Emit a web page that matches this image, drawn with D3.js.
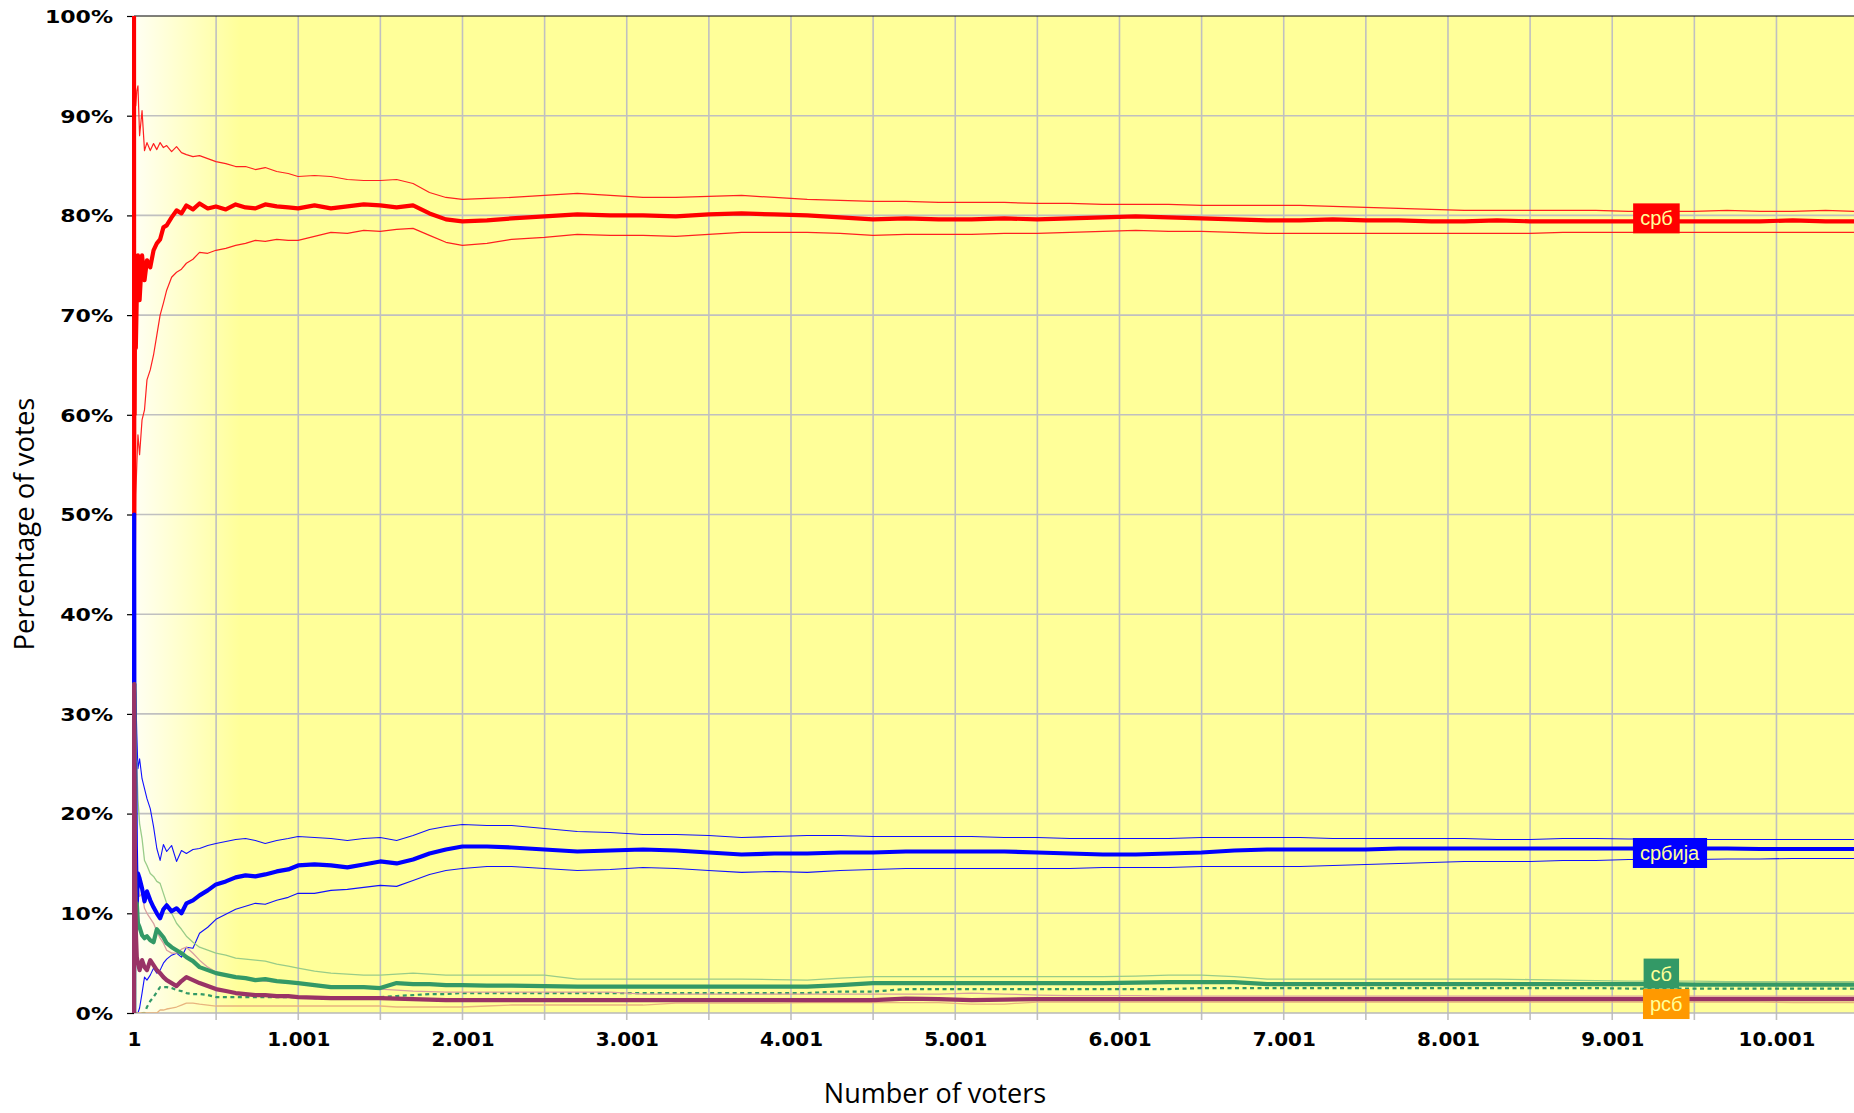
<!DOCTYPE html>
<html>
<head>
<meta charset="utf-8">
<script src="https://cdn.jsdelivr.net/npm/d3@7"></script>
<style>
  html, body { margin: 0; padding: 0; background: #fff; }
  svg { display: block; }
</style>
</head>
<body>
<div id="chart"></div>
<script>
// ========== Data ==========
const voters = [1,2,3,5,8,12,18,25,35,50,
  65,80,100,120,140,160,180,200,230,260,
  290,320,360,400,450,500,560,620,680,740,
  800,870,940,1000,1100,1200,1300,1400,1500,1600,
  1700,1800,1900,2000,2150,2300,2500,2700,2900,3100,
  3300,3500,3700,3900,4100,4300,4500,4700,4900,5100,
  5300,5500,5700,5900,6100,6300,6500,6700,6900,7100,
  7300,7500,7700,7900,8100,8300,8500,8700,8900,9100,
  9300,9500,9700,9900,10100,10300,10500];

// срб
const srbMean = [100,50,66.7,60,75,66.7,72,76,71.5,76,
  73.5,75.5,74.8,76.5,77.2,77.6,78.8,79,79.8,80.5,
  80.2,81,80.6,81.2,80.7,80.9,80.6,81.1,80.8,80.7,
  81.1,80.9,80.8,80.7,81.0,80.7,80.9,81.1,81.0,80.8,
  81.0,80.2,79.6,79.4,79.5,79.7,79.9,80.1,80.0,80.0,
  79.9,80.1,80.2,80.1,80.0,79.8,79.6,79.7,79.6,79.6,
  79.7,79.6,79.7,79.8,79.9,79.8,79.7,79.6,79.5,79.5,
  79.6,79.5,79.5,79.4,79.4,79.5,79.4,79.4,79.4,79.4,
  79.4,79.4,79.4,79.4,79.5,79.4,79.4];
const srbHigh = [76,88,92,90,93.3,91,92.5,93,88,90.5,
  86.5,87.3,86.5,87.2,86.6,87.3,86.8,87.0,86.4,86.9,
  86.3,86.1,85.9,86.0,85.7,85.4,85.2,84.9,84.9,84.6,
  84.8,84.4,84.2,83.9,84.0,83.9,83.6,83.5,83.5,83.6,
  83.2,82.3,81.8,81.6,81.7,81.8,82.0,82.2,82.0,81.8,
  81.8,81.9,82.0,81.8,81.6,81.5,81.4,81.4,81.3,81.3,
  81.3,81.2,81.2,81.1,81.1,81.1,81.0,81.0,81.0,81.0,
  80.9,80.8,80.7,80.6,80.5,80.5,80.5,80.5,80.5,80.4,
  80.4,80.4,80.5,80.4,80.4,80.5,80.4];
const srbLow = [40,44,40,48,42,52,55,58,56,59.5,
  60.5,63.5,64.5,66,68,70,71.2,72.5,73.8,74.3,
  74.6,75.2,75.6,76.3,76.2,76.5,76.7,77.0,77.2,77.5,
  77.4,77.6,77.5,77.5,77.9,78.3,78.2,78.5,78.4,78.6,
  78.7,78.0,77.3,77.0,77.2,77.6,77.8,78.1,78.0,78.0,
  77.9,78.1,78.3,78.3,78.3,78.2,78.0,78.1,78.1,78.1,
  78.2,78.2,78.3,78.4,78.5,78.4,78.4,78.3,78.2,78.2,
  78.2,78.2,78.2,78.2,78.2,78.2,78.2,78.3,78.3,78.3,
  78.3,78.3,78.3,78.3,78.3,78.3,78.3];

// србија
const srbijaMean = [0,50,33,20,25,16.7,11,14,13.5,12.5,
  11.2,12.2,11.3,10.6,10.0,9.5,10.4,10.8,10.2,10.5,
  10.0,11.0,11.3,11.8,12.3,12.9,13.2,13.6,13.8,13.7,
  13.9,14.2,14.4,14.8,14.9,14.8,14.6,14.9,15.2,15.0,
  15.4,16.0,16.4,16.7,16.7,16.6,16.4,16.2,16.3,16.4,
  16.3,16.1,15.9,16.0,16.0,16.1,16.1,16.2,16.2,16.2,
  16.2,16.1,16.0,15.9,15.9,16.0,16.1,16.3,16.4,16.4,
  16.4,16.4,16.5,16.5,16.5,16.5,16.5,16.5,16.5,16.5,
  16.5,16.5,16.5,16.45,16.45,16.45,16.45];
const srbijaHigh = [0,76,60,40,33,32,28,24.5,25.5,23.5,
  22.5,21.5,20.5,18.7,16.5,15.3,16.9,16.2,16.8,15.2,
  16.3,16.0,16.4,16.5,16.8,17.0,17.2,17.4,17.5,17.3,
  17.0,17.3,17.5,17.7,17.6,17.5,17.3,17.5,17.6,17.3,
  17.8,18.4,18.7,18.9,18.8,18.8,18.5,18.2,18.1,17.9,
  17.9,17.8,17.6,17.7,17.8,17.8,17.7,17.7,17.7,17.7,
  17.6,17.6,17.5,17.5,17.5,17.5,17.6,17.6,17.6,17.6,
  17.5,17.5,17.5,17.5,17.5,17.4,17.4,17.5,17.5,17.45,
  17.45,17.4,17.4,17.4,17.4,17.4,17.4];
const srbijaLow = [0,0,0,0,0,0,0,0,0.5,2,
  3.6,3.3,3.8,4.5,4.0,4.3,5.0,5.4,5.8,6.0,
  5.6,6.6,6.5,8.0,8.6,9.4,9.9,10.4,10.7,11.0,
  10.9,11.3,11.6,12.0,12.0,12.3,12.4,12.6,12.8,12.7,
  13.3,13.9,14.3,14.5,14.7,14.7,14.5,14.3,14.4,14.6,
  14.5,14.3,14.1,14.2,14.1,14.3,14.4,14.5,14.5,14.5,
  14.5,14.5,14.5,14.6,14.6,14.6,14.7,14.7,14.7,14.7,
  14.8,14.9,15.0,15.1,15.2,15.2,15.2,15.3,15.3,15.4,
  15.4,15.4,15.45,15.45,15.5,15.5,15.5];

// сб
const sbMean = [0,0,33,20,12.5,8.3,11,9.0,8.6,7.8,
  7.5,7.7,7.3,7.1,8.4,8.0,7.6,7.0,6.6,6.3,
  6.0,5.6,5.2,4.6,4.3,4.0,3.8,3.6,3.5,3.3,
  3.4,3.2,3.1,3.0,2.8,2.6,2.6,2.6,2.5,3.0,
  2.9,2.9,2.8,2.8,2.75,2.75,2.7,2.65,2.65,2.65,
  2.65,2.65,2.65,2.65,2.65,2.8,3.0,3.0,3.0,3.0,
  3.0,3.0,3.0,3.0,3.05,3.1,3.1,3.1,2.9,2.9,
  2.9,2.9,2.9,2.9,2.9,2.9,2.9,2.9,2.9,2.9,
  2.9,2.85,2.85,2.85,2.85,2.85,2.85];
const sbHigh = [0,20,33,30,28,26,25,21.4,19,17.5,
  15.3,14.8,14.0,13.7,13.2,13.0,12.0,11.0,10.0,9.0,
  8.4,7.7,7.1,6.6,6.3,6.0,5.8,5.5,5.4,5.3,
  5.2,4.9,4.7,4.5,4.2,4.0,3.9,3.8,3.8,3.9,
  4.0,3.9,3.8,3.8,3.8,3.8,3.8,3.4,3.4,3.4,
  3.4,3.4,3.4,3.35,3.3,3.5,3.65,3.65,3.65,3.65,
  3.65,3.65,3.65,3.65,3.7,3.8,3.8,3.65,3.4,3.4,
  3.4,3.4,3.4,3.4,3.4,3.4,3.35,3.3,3.25,3.2,
  3.2,3.2,3.15,3.15,3.15,3.15,3.15];
const sbLow = [0,0,0,0,0,0,0,0,0,0,
  0,0.6,1.2,1.6,2.1,2.6,2.6,2.6,2.5,2.3,
  2.2,2.0,1.9,1.9,1.8,1.6,1.6,1.6,1.6,1.6,
  1.6,1.6,1.6,1.6,1.5,1.5,1.5,1.6,1.6,1.7,
  1.8,1.9,1.9,2.0,2.0,2.0,2.0,2.0,2.0,2.0,
  2.0,2.0,2.0,2.0,2.0,2.15,2.15,2.4,2.4,2.4,
  2.4,2.4,2.4,2.4,2.4,2.4,2.5,2.5,2.5,2.5,
  2.5,2.5,2.5,2.5,2.5,2.5,2.5,2.5,2.5,2.45,
  2.45,2.45,2.45,2.45,2.45,2.45,2.45];

// рсб
const rsbMean = [0,33,25,20,12.5,8.3,5.6,5.0,4.3,5.3,
  4.6,4.3,5.3,4.8,4.3,4.0,3.6,3.3,3.0,2.7,
  3.2,3.6,3.3,3.0,2.7,2.4,2.2,2.0,1.9,1.8,
  1.8,1.7,1.7,1.6,1.55,1.5,1.5,1.5,1.5,1.45,
  1.4,1.35,1.3,1.3,1.3,1.3,1.3,1.3,1.3,1.3,
  1.3,1.3,1.3,1.3,1.3,1.3,1.3,1.45,1.4,1.3,
  1.35,1.4,1.4,1.4,1.4,1.4,1.4,1.4,1.4,1.4,
  1.4,1.4,1.4,1.4,1.4,1.4,1.4,1.4,1.4,1.4,
  1.4,1.4,1.4,1.4,1.4,1.4,1.4];
const rsbHigh = [0,37,30,25,20,16,13,12.5,11.7,12,
  10.5,10,9.5,9.0,8.2,7.5,7.0,6.3,6.0,6.0,
  6.4,6.6,6.0,5.3,4.6,4.1,3.8,3.6,3.4,3.3,
  3.2,3.1,3.0,3.0,2.8,2.7,2.6,2.5,2.4,2.3,
  2.2,2.15,2.1,2.1,2.1,2.1,2.1,2.1,2.1,1.9,
  1.9,1.9,1.9,1.9,1.9,1.9,1.9,1.9,1.9,2.0,
  1.9,1.8,1.75,1.75,1.75,1.7,1.7,1.7,1.7,1.7,
  1.7,1.7,1.7,1.7,1.7,1.7,1.7,1.7,1.7,1.7,
  1.7,1.7,1.7,1.7,1.7,1.7,1.7];
const rsbLow = [0,0,0,0,0,0,0,0,0,0,
  0,0,0,0,0,0.3,0.3,0.4,0.5,0.6,
  0.8,1.0,1.0,0.9,0.8,0.7,0.7,0.7,0.7,0.7,
  0.7,0.7,0.7,0.7,0.7,0.7,0.7,0.7,0.7,0.6,
  0.6,0.6,0.6,0.6,0.7,0.8,0.8,0.8,0.8,0.8,
  1.0,1.0,1.0,1.0,1.05,1.05,1.05,1.05,1.05,0.9,
  0.9,1.1,1.1,1.1,1.1,1.1,1.1,1.1,1.1,1.1,
  1.1,1.1,1.1,1.1,1.1,1.1,1.1,1.1,1.1,1.1,
  1.1,1.1,1.1,1.1,1.05,1.05,1.05];

const yTicks = [0, 10, 20, 30, 40, 50, 60, 70, 80, 90, 100];
const xTicks = [1, 1001, 2001, 3001, 4001, 5001, 6001, 7001, 8001, 9001, 10001];
const xMinor = d3.range(1, 10502, 500);

const labelNames = ["срб", "србија", "сб", "рсб"];
const labelValues = [79.4, 16.45, 2.85, 1.4];
const labelVoters = [9270, 9350, 9300, 9330];

// ========== Layout ==========
const W = 1854, H = 1113;
const plotLeft = 134, plotTop = 16, plotBottom = 1013, plotRight = 1854;

const svg = d3.select("#chart").append("svg")
  .attr("width", W).attr("height", H);

const x = d3.scaleLinear().domain([1, 10473]).range([plotLeft, plotRight]);
const y = d3.scaleLinear().domain([0, 100]).range([plotBottom, plotTop]);

const defs = svg.append("defs");
const grad = defs.append("linearGradient")
  .attr("id", "bg").attr("gradientUnits", "userSpaceOnUse")
  .attr("x1", plotLeft).attr("x2", 240).attr("y1", 0).attr("y2", 0);
grad.append("stop").attr("offset", 0).attr("stop-color", "#FFFFF4");
grad.append("stop").attr("offset", 1).attr("stop-color", "#FFFF99");

defs.append("clipPath").attr("id", "plotclip")
  .append("rect").attr("x", plotLeft - 2).attr("y", plotTop)
  .attr("width", plotRight - plotLeft + 2).attr("height", plotBottom - plotTop);

// Plot background
svg.append("rect")
  .attr("x", plotLeft).attr("y", plotTop)
  .attr("width", plotRight - plotLeft).attr("height", plotBottom - plotTop)
  .attr("fill", "url(#bg)");

// Grid
svg.append("g")
  .selectAll("line").data(xMinor.filter(d => d > 1)).enter().append("line")
  .attr("x1", d => x(d)).attr("x2", d => x(d))
  .attr("y1", plotTop).attr("y2", plotBottom + 7)
  .attr("stroke", "#C0C0C0").attr("stroke-width", 1.6);

svg.append("g")
  .selectAll("line").data(yTicks.filter(d => d > 0 && d < 100)).enter().append("line")
  .attr("x1", plotLeft).attr("x2", plotRight)
  .attr("y1", d => y(d)).attr("y2", d => y(d))
  .attr("stroke", "#C0C0C0").attr("stroke-width", 1.6);

// Axes lines
svg.append("line").attr("x1", plotLeft).attr("x2", plotRight).attr("y1", plotBottom).attr("y2", plotBottom)
  .attr("stroke", "#B8B8B8").attr("stroke-width", 1.6);
svg.append("line").attr("x1", plotLeft).attr("x2", plotRight).attr("y1", plotTop).attr("y2", plotTop)
  .attr("stroke", "#000").attr("stroke-width", 1.2);
svg.append("line").attr("x1", plotLeft).attr("x2", plotLeft).attr("y1", plotTop).attr("y2", plotBottom)
  .attr("stroke", "#000").attr("stroke-width", 1);

// Y axis
const yAxis = svg.append("g")
  .attr("transform", `translate(${plotLeft},0)`)
  .call(d3.axisLeft(y).tickValues(yTicks).tickSize(7).tickFormat(d => d + "%"));
yAxis.select(".domain").remove();
yAxis.selectAll("line").attr("stroke", "#000").attr("stroke-width", 1.2);
yAxis.selectAll("text")
  .attr("x", -21 / 1.26)
  .attr("dy", "0.36em")
  .attr("transform", "scale(1.26,1)")
  .attr("font-family", "'DejaVu Sans', Verdana, sans-serif")
  .attr("font-weight", "bold")
  .attr("font-size", 17.5)
  .attr("fill", "#000");

// X axis labels
const fmt = d3.formatLocale({ decimal: ",", thousands: ".", grouping: [3], currency: ["", ""] }).format(",d");
const xAxis = svg.append("g")
  .attr("transform", `translate(0,${plotBottom})`)
  .call(d3.axisBottom(x).tickValues(xTicks).tickSize(0).tickFormat(fmt));
xAxis.select(".domain").remove();
xAxis.selectAll("text")
  .attr("y", 20)
  .attr("dy", "0.71em")
  .attr("transform", "scale(1.05,1)")
  .attr("font-family", "'DejaVu Sans', Verdana, sans-serif")
  .attr("font-weight", "bold")
  .attr("font-size", 19)
  .attr("fill", "#000");

// ========== Series ==========
const series = [
  { values: srbHigh, color: "#FF2020", width: 1.2 },
  { values: srbLow, color: "#FF2020", width: 1.2 },
  { values: srbijaHigh, color: "#1010FF", width: 1.1 },
  { values: srbijaLow, color: "#1010FF", width: 1.1 },
  { values: sbHigh, color: "#99CC88", width: 1.3 },
  { values: sbLow, color: "#339966", width: 2.2, dash: "4,3.5" },
  { values: rsbHigh, color: "#D9A0A0", width: 1.3 },
  { values: rsbLow, color: "#E8B47E", width: 1.3 },
  { values: srbMean, color: "#FF0000", width: 4.2 },
  { values: srbijaMean, color: "#0000FF", width: 4.2 },
  { values: sbMean, color: "#339966", width: 4.2 },
  { values: rsbMean, color: "#993366", width: 4.2 }
];

const line = d3.line()
  .x((d, i) => x(voters[i]))
  .y(d => y(d));

const plot = svg.append("g").attr("clip-path", "url(#plotclip)");
plot.selectAll("path")
  .data(series).enter().append("path")
  .attr("d", d => line(d.values))
  .attr("fill", "none")
  .attr("stroke", d => d.color)
  .attr("stroke-width", d => d.width)
  .attr("stroke-dasharray", d => d.dash || null)
  .attr("stroke-linejoin", "round");

// ========== Data labels ==========
const labelFill = ["#FF0000", "#0000FF", "#339966", "#FF9900"];
const labelShift = [-3, 4, -11, 5];
labelNames.forEach((name, i) => {
  const g = svg.append("g")
    .attr("transform", `translate(${x(labelVoters[i])},${y(labelValues[i]) + labelShift[i]})`);
  const t = g.append("text")
    .attr("text-anchor", "middle")
    .attr("dy", "0.35em")
    .attr("font-family", "'Liberation Sans', Arial, sans-serif")
    .attr("font-size", 20)
    .attr("fill", "#FFFF99")
    .text(name);
  const bb = t.node().getBBox();
  g.insert("rect", "text")
    .attr("x", bb.x - 7).attr("y", -15)
    .attr("width", bb.width + 14).attr("height", 30)
    .attr("fill", labelFill[i]);
});

// ========== Axis titles ==========
svg.append("text")
  .attr("transform", "translate(34,524) rotate(-90)")
  .attr("text-anchor", "middle")
  .attr("font-family", "'Open Sans', sans-serif")
  .attr("font-size", 27.5)
  .attr("fill", "#000")
  .text("Percentage of votes");

svg.append("text")
  .attr("x", 935).attr("y", 1103)
  .attr("text-anchor", "middle")
  .attr("font-family", "'Open Sans', sans-serif")
  .attr("font-size", 27)
  .attr("fill", "#000")
  .text("Number of voters");
</script>
</body>
</html>
